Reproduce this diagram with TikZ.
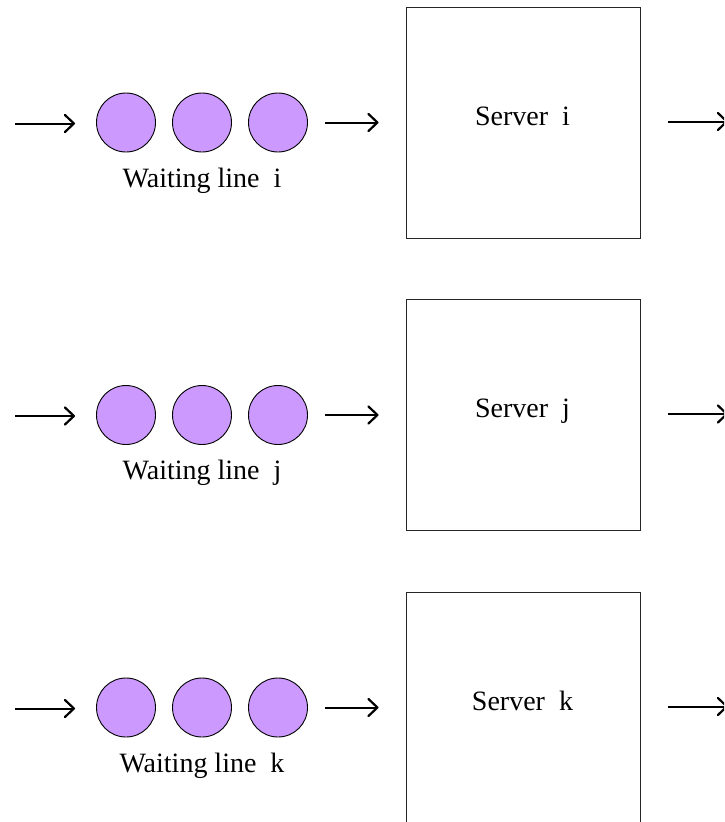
\documentclass[tikz,border=0pt]{standalone}
\usepackage{fontspec}
\setmainfont{Liberation Serif}
\usetikzlibrary{arrows.meta}
\definecolor{token}{RGB}{204,153,255}
\tikzset{
  token/.style={circle, draw=black, line width=0.9pt, fill=token,
    minimum size=59pt, inner sep=0pt},
  server/.style={draw=black!85, line width=0.9pt, minimum width=234pt,
    minimum height=231pt, inner sep=0pt},
  lbl/.style={font=\fontsize{28}{33}\selectfont, inner sep=0pt, anchor=base},
  flow/.style={line width=2pt,
    -{Straight Barb[length=9pt,width=17pt,line width=2.2pt,round]}},
}
\begin{document}
\begin{tikzpicture}[x=1pt,y=-1pt]
  \useasboundingbox (0,0) rectangle (724,822);
  \clip (0,0) rectangle (724,822);
  \foreach \id [count=\r from 0] in {i,j,k} {
    \pgfmathsetmacro{\yy}{122.5+292.5*\r}
    % queue of three customers
    \node[token] (a\id) at (126,\yy) {};
    \node[token] (b\id) at (202,\yy) {};
    \node[token] (c\id) at (278,\yy) {};
    \node[lbl] (w\id) at (202,\yy+64.5) {Waiting line\ \ \id};
    % service station
    \node[server] (s\id) at (523,\yy) {};
    \node[lbl] (t\id) at (522.5,\yy+2.5) {Server\ \ \id};
    % arrivals and departures
    \coordinate (in\id) at (15,\yy+1);
    \coordinate (out\id) at (728,\yy-1);
    \draw[flow, shorten >=21pt] (in\id) -- (a\id.west |- in\id);
    \draw[flow, shorten <=17pt, shorten >=27pt] (c\id.east) -- (s\id.west |- c\id.east);
    \draw[flow, shorten <=28pt] (s\id.east |- out\id) -- (out\id);
  }
\end{tikzpicture}
\end{document}
